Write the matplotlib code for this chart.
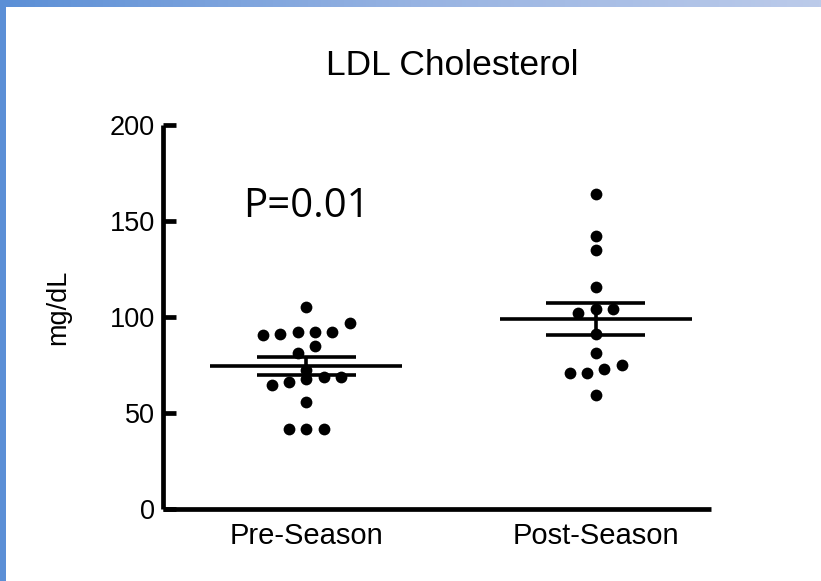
import numpy as np
import matplotlib
matplotlib.use("Agg")
import matplotlib.pyplot as plt
from matplotlib.colors import LinearSegmentedColormap

# LDL values (mg/dL) per athlete
groups = ["Pre-Season", "Post-Season"]
pre_ldl = [105, 97, 92, 92, 92, 91, 90.8, 84.7, 81, 72.6, 68.8, 68.8, 67.9, 66, 64.7, 55.7, 41.7, 41.7, 41.7]
post_ldl = [164, 142, 135, 115.5, 104, 104, 102, 91, 81, 75, 73, 71, 71, 59.5]
y_ticks = [0, 50, 100, 150, 200]
p_text = "P=0.01"

plt.rcParams["font.family"] = ["Liberation Sans", "DejaVu Sans"]


def swarm_offsets(values, row_height=10, step=0.06):
    """Prism-style scatter: bin into rows, spread each row symmetrically."""
    rows = {}
    for i, v in enumerate(values):
        rows.setdefault(int(v // row_height), []).append(i)
    offsets = np.zeros(len(values))
    for idx in rows.values():
        idx = sorted(idx, key=lambda i: values[i])
        n = len(idx)
        for k, i in enumerate(idx):
            offsets[i] = (k - (n - 1) / 2) * step
    return offsets


fig = plt.figure(figsize=(8.21, 5.81), dpi=100)

# slide frame: blue strip on the left, gradient strip on top
left_ax = fig.add_axes([0, 0, 6 / 821, 1])
left_ax.set_facecolor("#5b8fd6")
left_ax.set_xticks([])
left_ax.set_yticks([])
for s in left_ax.spines.values():
    s.set_visible(False)

top_ax = fig.add_axes([0, 1 - 7 / 581, 1, 7 / 581])
grad = LinearSegmentedColormap.from_list("frame", ["#5b8fd6", "#97b3e2", "#bccbea"])
top_ax.imshow(np.linspace(0, 1, 256)[None, :], aspect="auto", cmap=grad)
top_ax.set_axis_off()

ax = fig.add_axes([163 / 821, 1 - 509 / 581, (711 - 163) / 821, (509 - 125) / 581])

for pos, vals in enumerate([pre_ldl, post_ldl]):
    vals = np.array(vals)
    xs = pos + swarm_offsets(vals)
    ax.scatter(xs, vals, s=72, color="black", zorder=3, linewidths=0)
    mean = vals.mean()
    sem = vals.std(ddof=1) / np.sqrt(len(vals))
    ax.hlines(mean, pos - 0.332, pos + 0.332, color="black", lw=2.6, zorder=4)
    ax.hlines([mean - sem, mean + sem], pos - 0.17, pos + 0.17, color="black", lw=2.6, zorder=4)
    ax.vlines(pos, mean - sem, mean + sem, color="black", lw=2.6, zorder=4)

ax.set_xlim(-0.496, 1.399)
ax.set_ylim(0, 200)
ax.set_yticks(y_ticks)
ax.set_xticks([0, 1])
ax.set_xticklabels(groups, fontsize=21)
ax.tick_params(axis="x", length=0, pad=9)
ax.tick_params(axis="y", direction="in", length=9, width=3.4, labelsize=19.5, pad=6)
for side in ["top", "right"]:
    ax.spines[side].set_visible(False)
for side in ["left", "bottom"]:
    ax.spines[side].set_linewidth(3.4)
    ax.spines[side].set_capstyle("butt")

fig.text(452 / 821, 1 - 75 / 581, "LDL Cholesterol", fontsize=25.5, ha="center", va="baseline")
fig.text(58 / 821, 1 - 307 / 581, "mg/dL", fontsize=19.5, rotation=90, ha="center", va="center")
fig.text(243 / 821, 1 - 217 / 581, p_text, fontsize=29, family=["Open Sans", "DejaVu Sans"],
         ha="left", va="baseline")

fig.savefig("out.png", dpi=100, facecolor="white")
